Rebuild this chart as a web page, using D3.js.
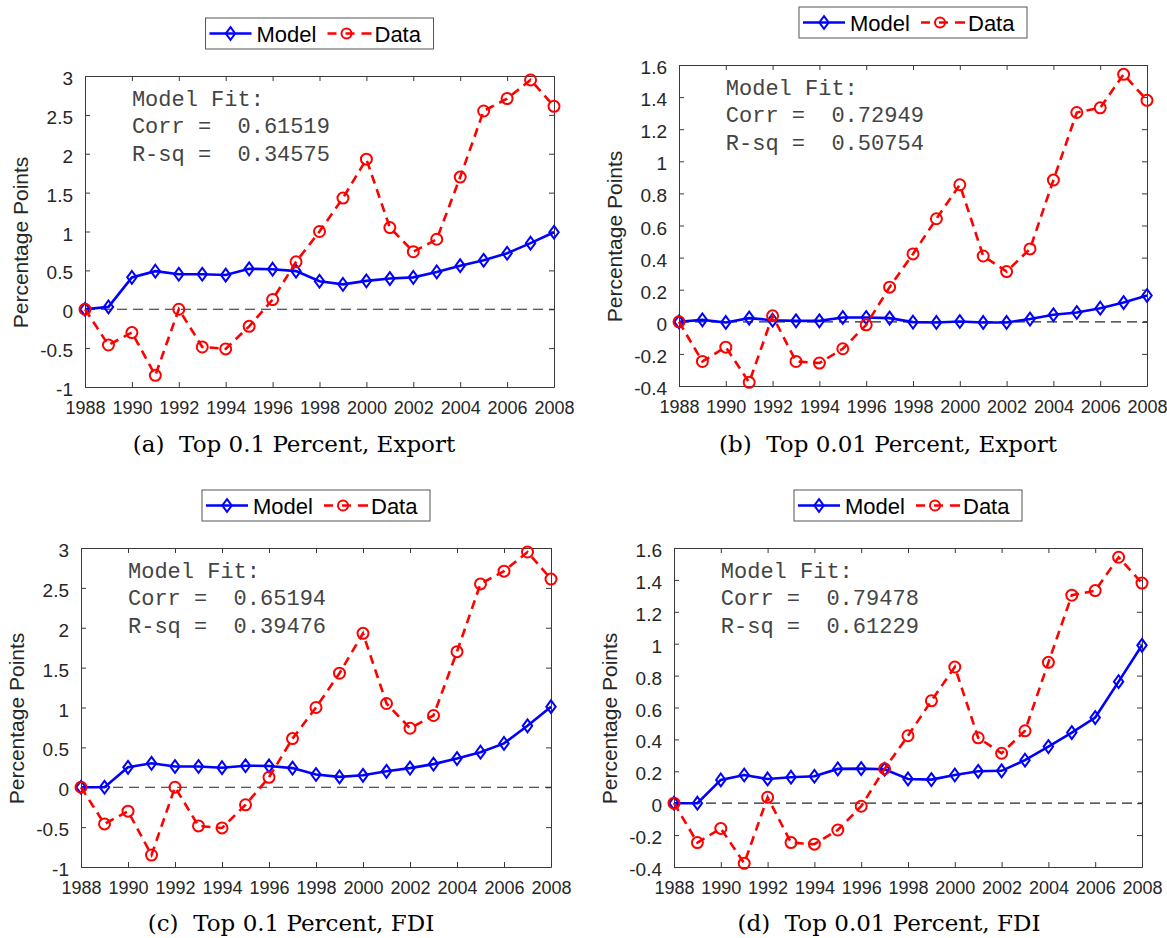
<!DOCTYPE html>
<html>
<head>
<meta charset="utf-8">
<script src="https://cdn.jsdelivr.net/npm/d3@7"></script>
<style>
  body { margin: 0; background: #fff; }
  svg text { font-family: "Liberation Sans", Arial, sans-serif; }
</style>
</head>
<body>
<div id="chart"></div>
<script>
// ---- data ----
const years = [1988, 1989, 1990, 1991, 1992, 1993, 1994, 1995, 1996, 1997, 1998,
               1999, 2000, 2001, 2002, 2003, 2004, 2005, 2006, 2007, 2008];
const xTicks = [1988, 1990, 1992, 1994, 1996, 1998, 2000, 2002, 2004, 2006, 2008];

// observed change, top 0.1 and top 0.01 percent
const dataTop01 = [0, -0.46, -0.30, -0.85, 0, -0.485, -0.51, -0.22, 0.125, 0.61, 1.0,
                   1.43, 1.93, 1.05, 0.74, 0.90, 1.70, 2.55, 2.71, 2.95, 2.61];
const dataTop001 = [0, -0.247, -0.158, -0.377, 0.037, -0.247, -0.257, -0.168, -0.019, 0.216, 0.423,
                    0.642, 0.854, 0.41, 0.313, 0.454, 0.883, 1.304, 1.333, 1.542, 1.38];

// model predictions
const modelTop01Export = [0, 0.03, 0.41, 0.49, 0.45, 0.45, 0.44, 0.52, 0.515, 0.49, 0.36,
                          0.32, 0.365, 0.395, 0.41, 0.48, 0.56, 0.63, 0.72, 0.85, 0.99];
const modelTop001Export = [0, 0.012, -0.004, 0.023, 0.01, 0.006, 0.006, 0.027, 0.027, 0.023, -0.002,
                           -0.004, 0.002, -0.004, -0.004, 0.017, 0.044, 0.058, 0.085, 0.12, 0.164];
const modelTop01FDI = [0, 0, 0.25, 0.30, 0.26, 0.26, 0.245, 0.27, 0.267, 0.24, 0.16,
                       0.13, 0.15, 0.20, 0.24, 0.29, 0.36, 0.44, 0.55, 0.77, 1.01];
const modelTop001FDI = [0, 0, 0.146, 0.177, 0.152, 0.163, 0.169, 0.215, 0.217, 0.213, 0.152,
                        0.148, 0.177, 0.20, 0.203, 0.27, 0.355, 0.443, 0.537, 0.762, 0.99];

const yTicksTop01 = [-1, -0.5, 0, 0.5, 1, 1.5, 2, 2.5, 3];
const yTicksTop001 = [-0.4, -0.2, 0, 0.2, 0.4, 0.6, 0.8, 1, 1.2, 1.4, 1.6];

const fitCorr = ["0.61519", "0.72949", "0.65194", "0.79478"];
const fitRsq = ["0.34575", "0.50754", "0.39476", "0.61229"];
const captions = ["Top 0.1 Percent, Export", "Top 0.01 Percent, Export",
                  "Top 0.1 Percent, FDI", "Top 0.01 Percent, FDI"];
const letters = ["(a)", "(b)", "(c)", "(d)"];

// ---- layout ----
const panels = [
  { model: modelTop01Export, data: dataTop01, ticks: yTicksTop01,
    box: { x: 85, y: 76, w: 469, h: 311 }, capX: 294, capY: 452 },
  { model: modelTop001Export, data: dataTop001, ticks: yTicksTop001,
    box: { x: 679, y: 65, w: 468, h: 321 }, capX: 888, capY: 452 },
  { model: modelTop01FDI, data: dataTop01, ticks: yTicksTop01,
    box: { x: 81, y: 548, w: 470, h: 319 }, capX: 291, capY: 931 },
  { model: modelTop001FDI, data: dataTop001, ticks: yTicksTop001,
    box: { x: 674, y: 548, w: 468, h: 319 }, capX: 889, capY: 931 }
];

const axisColor = "#3a3a3a";
const blue = "#0000ff";
const red = "#ff0000";
const diamond = "M0,-6.4L4.7,0L0,6.4L-4.7,0Z";

const svg = d3.select("#chart")
  .append("svg")
  .attr("width", 1167)
  .attr("height", 938);

panels.forEach((p, i) => {
  const b = p.box;
  const x = d3.scaleLinear().domain([1988, 2008]).range([0, b.w]);
  const y = d3.scaleLinear()
    .domain([p.ticks[0], p.ticks[p.ticks.length - 1]])
    .range([b.h, 0]);

  const g = svg.append("g").attr("transform", `translate(${b.x},${b.y})`);

  // axes, ticks pointing inward on all four sides
  const styleAxis = (sel, size) => {
    sel.attr("font-size", size)
      .attr("font-family", '"Liberation Sans", Arial, sans-serif');
    sel.selectAll("path, line").attr("stroke", axisColor);
    sel.selectAll("text").attr("fill", "#262626");
  };
  g.append("g")
    .attr("transform", `translate(0,${b.h})`)
    .call(d3.axisBottom(x).tickValues(xTicks).tickSizeInner(-5).tickSizeOuter(0)
      .tickPadding(14).tickFormat((d) => String(d)))
    .call(styleAxis, 18);
  g.append("g")
    .call(d3.axisTop(x).tickValues(xTicks).tickSizeInner(-5).tickSizeOuter(0)
      .tickFormat(""))
    .call(styleAxis, 18);
  g.append("g")
    .call(d3.axisLeft(y).tickValues(p.ticks).tickSizeInner(-5).tickSizeOuter(0)
      .tickPadding(12).tickFormat((d) => String(d)))
    .call(styleAxis, 19)
    .call((a) => a.selectAll("text").attr("dy", "0.45em"));
  g.append("g")
    .attr("transform", `translate(${b.w},0)`)
    .call(d3.axisRight(y).tickValues(p.ticks).tickSizeInner(-5).tickSizeOuter(0)
      .tickFormat(""))
    .call(styleAxis, 19);

  // zero reference line
  g.append("line")
    .attr("x1", 0).attr("x2", b.w)
    .attr("y1", y(0)).attr("y2", y(0))
    .attr("stroke", "#262626")
    .attr("stroke-width", 1.2)
    .attr("stroke-dasharray", "10,6");

  const line = d3.line().x((d, k) => x(years[k])).y((d) => y(d));

  // model: solid blue with diamonds
  g.append("path")
    .datum(p.model)
    .attr("d", line)
    .attr("fill", "none")
    .attr("stroke", blue)
    .attr("stroke-width", 2.6);
  g.selectAll(".diamond")
    .data(p.model)
    .join("path")
    .attr("class", "diamond")
    .attr("d", diamond)
    .attr("transform", (d, k) => `translate(${x(years[k])},${y(d)})`)
    .attr("fill", "none")
    .attr("stroke", blue)
    .attr("stroke-width", 2);

  // data: dashed red with circles
  g.append("path")
    .datum(p.data)
    .attr("d", line)
    .attr("fill", "none")
    .attr("stroke", red)
    .attr("stroke-width", 2.6)
    .attr("stroke-dasharray", "9,6");
  g.selectAll(".dot")
    .data(p.data)
    .join("circle")
    .attr("class", "dot")
    .attr("cx", (d, k) => x(years[k]))
    .attr("cy", (d) => y(d))
    .attr("r", 5.5)
    .attr("fill", "none")
    .attr("stroke", red)
    .attr("stroke-width", 2);

  // model fit note
  const fit = g.append("g")
    .attr("font-size", 22)
    .attr("fill", "#444");
  ["Model Fit:", `Corr =  ${fitCorr[i]}`, `R-sq =  ${fitRsq[i]}`].forEach((t, k) => {
    fit.append("text")
      .attr("x", x(1990))
      .attr("y", 30 + k * 27.3)
      .style("white-space", "pre")
      .style("font-family", '"Liberation Mono", "DejaVu Sans Mono", monospace')
      .text(t);
  });

  // y label
  g.append("text")
    .attr("transform", `translate(-64,${b.h / 2 + 11}) rotate(-90)`)
    .attr("text-anchor", "middle")
    .attr("dy", "0.35em")
    .attr("font-size", 21)
    .attr("fill", "#262626")
    .text("Percentage Points");

  // legend
  const lw = 228, lh = 31;
  const leg = g.append("g")
    .attr("transform", `translate(${b.w / 2 - lw / 2},-58)`);
  leg.append("rect")
    .attr("width", lw).attr("height", lh)
    .attr("fill", "#fff")
    .attr("stroke", "#555")
    .attr("stroke-width", 1);
  const ly = lh / 2;
  leg.append("line")
    .attr("x1", 4).attr("x2", 46).attr("y1", ly).attr("y2", ly)
    .attr("stroke", blue).attr("stroke-width", 2.6);
  leg.append("path")
    .attr("d", diamond)
    .attr("transform", `translate(25,${ly})`)
    .attr("fill", "none").attr("stroke", blue).attr("stroke-width", 2);
  leg.append("text")
    .attr("x", 51).attr("y", ly + 8)
    .attr("font-size", 22).attr("fill", "#000")
    .text("Model");
  leg.append("line")
    .attr("x1", 122).attr("x2", 166).attr("y1", ly).attr("y2", ly)
    .attr("stroke", red).attr("stroke-width", 2.6)
    .attr("stroke-dasharray", "9,9,9,7,10");
  leg.append("circle")
    .attr("cx", 141).attr("cy", ly).attr("r", 5)
    .attr("fill", "none").attr("stroke", red).attr("stroke-width", 2);
  leg.append("text")
    .attr("x", 169).attr("y", ly + 8)
    .attr("font-size", 22).attr("fill", "#000")
    .text("Data");

  // caption
  svg.append("text")
    .attr("x", p.capX)
    .attr("y", p.capY)
    .attr("text-anchor", "middle")
    .attr("font-size", 23)
    .attr("fill", "#000")
    .style("font-family", '"DejaVu Serif", serif')
    .style("white-space", "pre")
    .text(`${letters[i]}  ${captions[i]}`);
});
</script>
</body>
</html>
